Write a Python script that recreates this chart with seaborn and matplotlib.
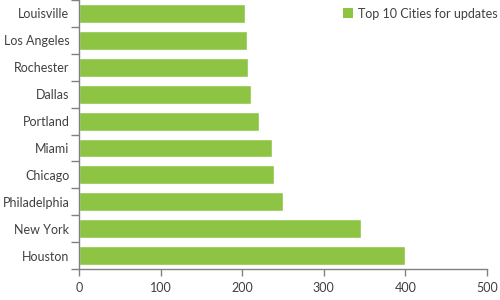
import matplotlib
matplotlib.use("Agg")
import matplotlib.pyplot as plt
import seaborn as sns
import pandas as pd
from matplotlib.patches import Patch
from matplotlib.ticker import FixedLocator

cities = ["Louisville", "Los Angeles", "Rochester", "Dallas", "Portland",
          "Miami", "Chicago", "Philadelphia", "New York", "Houston"]
values = [203, 206, 207, 211, 220, 236, 239, 250, 346, 400]
series_name = "Top 10 Cities for updates"
xticks = [0, 100, 200, 300, 400, 500]

green = "#8DC444"
axis_col = "#808080"
text_col = "#404040"

sns.set_theme(style="white")
plt.rcParams["font.family"] = ["Lato", "DejaVu Sans"]

df = pd.DataFrame({"city": cities, "value": values, "series": series_name})

fig = plt.figure(figsize=(5, 3), dpi=100)
ax = fig.add_axes([0.158, 0.103, 0.816, 0.897])

sns.barplot(data=df, x="value", y="city", hue="series", palette=[green],
            order=cities, orient="h", width=0.7, ax=ax, legend=False,
            saturation=1)

ax.set_xlim(0, 500)
ax.set_ylim(len(cities) - 0.5, -0.5)
ax.set_xticks(xticks)
ax.set_xlabel("")
ax.set_ylabel("")

for s in ["top", "right"]:
    ax.spines[s].set_visible(False)
for s in ["left", "bottom"]:
    ax.spines[s].set_color(axis_col)
    ax.spines[s].set_linewidth(1)

ax.yaxis.set_minor_locator(FixedLocator([i - 0.5 for i in range(len(cities) + 1)]))
ax.tick_params(axis="y", which="major", length=0, pad=7, labelsize=9, labelcolor=text_col)
ax.tick_params(axis="y", which="minor", length=6, width=1, color=axis_col, left=True)
ax.tick_params(axis="x", which="major", length=5, width=1, color=axis_col, bottom=True,
               pad=4, labelsize=9, labelcolor=text_col)

handles = [Patch(facecolor=green, edgecolor="none", label=series_name)]
leg = ax.legend(handles=handles, loc="upper right", bbox_to_anchor=(1.045, 1.0),
                frameon=False, fontsize=9, handlelength=0.8, handleheight=0.8,
                handletextpad=0.4, borderaxespad=0.2)
for t in leg.get_texts():
    t.set_color(text_col)

fig.savefig("out.png", dpi=100)
